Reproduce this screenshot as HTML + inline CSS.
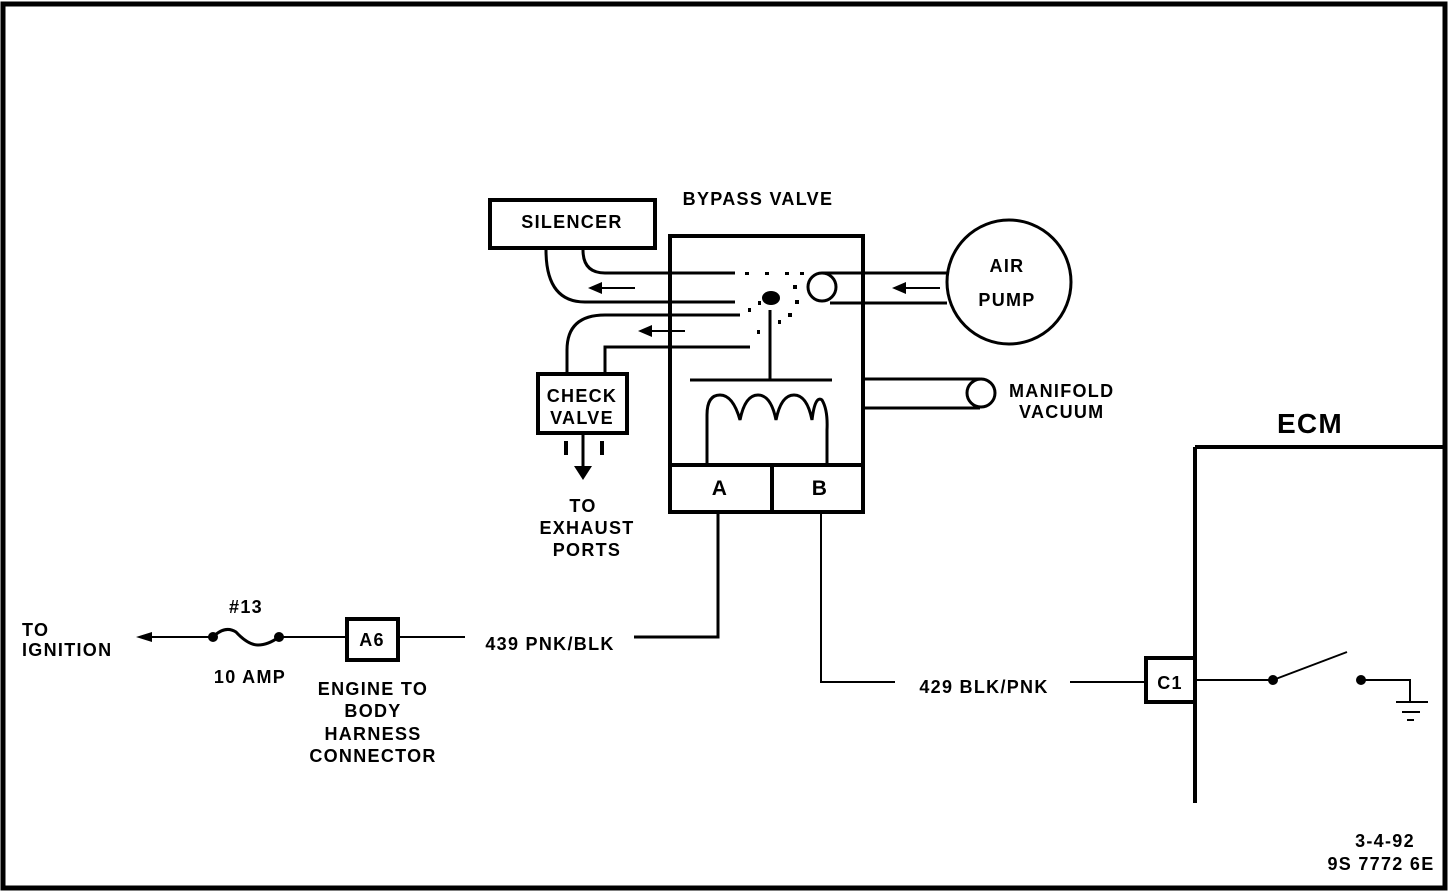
<!DOCTYPE html>
<html><head><meta charset="utf-8"><style>
html,body{margin:0;padding:0;background:#fff}
svg{display:block}
text{font-family:"Liberation Sans",sans-serif;font-weight:bold;fill:#000}
</style></head><body>
<svg width="1456" height="896" viewBox="0 0 1456 896" xmlns="http://www.w3.org/2000/svg">
<rect x="3" y="4" width="1442" height="884" fill="none" stroke="#000" stroke-width="5"/>
<g fill="none" stroke="#000" stroke-width="3">
<rect x="670" y="236" width="193" height="276" stroke-width="4"/>
<line x1="670" y1="465" x2="863" y2="465" stroke-width="4"/>
<line x1="772" y1="465" x2="772" y2="512" stroke-width="4"/>
<rect x="490" y="200" width="165" height="48" stroke-width="4"/>
<path d="M583 250 Q583 273 605 273 L735 273"/>
<path d="M546 250 Q546 302 585 302 L735 302"/>
<path d="M740 315 L605 315 Q567 315 567 350 L567 373"/>
<path d="M750 347 L605 347 L605 373"/>
<rect x="538" y="374" width="89" height="59" stroke-width="4"/>
<line x1="566" y1="441" x2="566" y2="455" stroke-width="4"/>
<line x1="602" y1="441" x2="602" y2="455" stroke-width="4"/>
<line x1="583" y1="433" x2="583" y2="468"/>
<circle cx="1009" cy="282" r="62"/>
<line x1="822" y1="273" x2="947" y2="273"/>
<line x1="830" y1="303" x2="947" y2="303"/>
<circle cx="822" cy="287" r="14" fill="#fff"/>
<line x1="863" y1="379" x2="980" y2="379"/>
<line x1="863" y1="408" x2="980" y2="408"/>
<circle cx="981" cy="393" r="14" fill="#fff"/>
<line x1="770" y1="310" x2="770" y2="380"/>
<line x1="690" y1="380" x2="832" y2="380"/>
<path d="M707 463 L707 415 Q707 395 720 395 Q733 395 740 420 Q745 395 758 395 Q771 395 776 420 Q781 395 794 395 Q807 395 812 420 Q815 395 822 400 Q828 410 827 430 L827 463"/>
<polyline points="718,512 718,637 634,637"/>
<line x1="400" y1="637" x2="465" y2="637" stroke-width="2"/>
<rect x="347" y="619" width="51" height="41" stroke-width="4"/>
<line x1="280" y1="637" x2="347" y2="637" stroke-width="2"/>
<line x1="150" y1="637" x2="213" y2="637" stroke-width="2"/>
<path d="M213 637 Q225 625 236 632 Q248 645 258 645 Q268 645 279 637"/>
<polyline points="821,512 821,682 895,682" stroke-width="2"/>
<line x1="1070" y1="682" x2="1146" y2="682" stroke-width="2"/>
<rect x="1146" y="658" width="49" height="44" stroke-width="4"/>
<line x1="1195" y1="447" x2="1195" y2="803" stroke-width="4"/>
<line x1="1195" y1="447" x2="1446" y2="447" stroke-width="4"/>
<line x1="1195" y1="680" x2="1273" y2="680" stroke-width="2"/>
<line x1="1273" y1="680" x2="1347" y2="652" stroke-width="2"/>
<polyline points="1361,680 1410,680 1410,702" stroke-width="2"/>
<line x1="1396" y1="702" x2="1428" y2="702" stroke-width="2"/>
<line x1="1402" y1="712" x2="1420" y2="712" stroke-width="2"/>
<line x1="1407" y1="720" x2="1414" y2="720" stroke-width="2"/>
<line x1="600" y1="288" x2="635" y2="288" stroke-width="2"/>
<line x1="650" y1="331" x2="685" y2="331" stroke-width="2"/>
<line x1="905" y1="288" x2="940" y2="288" stroke-width="2"/>
</g>
<g fill="#000">
<polygon points="588,288 602,282 602,294"/>
<polygon points="638,331 652,325 652,337"/>
<polygon points="892,288 906,282 906,294"/>
<polygon points="574,466 592,466 583,480"/>
<polygon points="136,637 152,632 152,642"/>
<circle cx="213" cy="637" r="5"/><circle cx="279" cy="637" r="5"/>
<circle cx="1273" cy="680" r="5"/><circle cx="1361" cy="680" r="5"/>
<ellipse cx="771" cy="298" rx="9" ry="7"/>
<rect x="745" y="272" width="4" height="3"/><rect x="765" y="272" width="4" height="3"/><rect x="785" y="272" width="4" height="3"/><rect x="800" y="272" width="4" height="3"/>
<rect x="793" y="285" width="4" height="4"/><rect x="795" y="300" width="4" height="4"/><rect x="788" y="313" width="4" height="4"/><rect x="778" y="320" width="3" height="4"/><rect x="758" y="301" width="3" height="4"/><rect x="748" y="308" width="3" height="4"/><rect x="757" y="330" width="3" height="4"/>
</g>
<g font-size="18" letter-spacing="1.3">
<text x="758" y="205" text-anchor="middle">BYPASS VALVE</text>
<text x="572" y="228" text-anchor="middle">SILENCER</text>
<text x="1007" y="272" text-anchor="middle">AIR</text>
<text x="1007" y="306" text-anchor="middle">PUMP</text>
<text x="1009" y="397">MANIFOLD</text>
<text x="1019" y="418">VACUUM</text>
<text x="582" y="402" text-anchor="middle">CHECK</text>
<text x="582" y="424" text-anchor="middle">VALVE</text>
<text x="583" y="512" text-anchor="middle">TO</text>
<text x="587" y="534" text-anchor="middle">EXHAUST</text>
<text x="587" y="556" text-anchor="middle">PORTS</text>
<text x="720" y="495" text-anchor="middle" font-size="21">A</text>
<text x="820" y="495" text-anchor="middle" font-size="21">B</text>
<text x="1310" y="433" text-anchor="middle" font-size="28">ECM</text>
<text x="22" y="636">TO</text>
<text x="22" y="656">IGNITION</text>
<text x="246" y="613" text-anchor="middle">#13</text>
<text x="250" y="683" text-anchor="middle">10 AMP</text>
<text x="372" y="646" text-anchor="middle">A6</text>
<text x="373" y="695" text-anchor="middle">ENGINE TO</text>
<text x="373" y="717" text-anchor="middle">BODY</text>
<text x="373" y="740" text-anchor="middle">HARNESS</text>
<text x="373" y="762" text-anchor="middle">CONNECTOR</text>
<text x="550" y="650" text-anchor="middle">439 PNK/BLK</text>
<text x="984" y="693" text-anchor="middle">429 BLK/PNK</text>
<text x="1170" y="689" text-anchor="middle">C1</text>
<text x="1385" y="847" text-anchor="middle">3-4-92</text>
<text x="1381" y="870" text-anchor="middle">9S 7772 6E</text>
</g>
</svg>
</body></html>
